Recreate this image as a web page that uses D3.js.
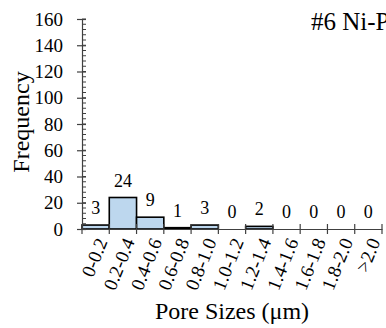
<!DOCTYPE html>
<html>
<head>
<meta charset="utf-8">
<script src="https://cdn.jsdelivr.net/npm/d3@7"></script>
<style>
  body { margin: 0; background: #fff; }
</style>
</head>
<body>
<div id="chart"></div>
<script>
// pore size bins and counts
var categories = ["0-0.2","0.2-0.4","0.4-0.6","0.6-0.8","0.8-1.0","1.0-1.2","1.2-1.4","1.4-1.6","1.6-1.8","1.8-2.0",">2.0"];
var counts = [3,24,9,1,3,0,2,0,0,0,0];
var yTicks = [0,20,40,60,80,100,120,140,160];
var title = "#6 Ni-P";

var serif = "'Liberation Serif', 'Times New Roman', serif";
var width = 386, height = 328;
var svg = d3.select("#chart").append("svg")
    .attr("width", width)
    .attr("height", height);

var x = d3.scaleBand().domain(categories).range([82, 382]).padding(0);
var y = d3.scaleLinear().domain([0, 160]).range([229, 19]);

// bars
svg.append("g").selectAll("rect")
  .data(counts)
  .enter().append("rect")
    .attr("x", function(d, i) { return x(categories[i]); })
    .attr("y", function(d) { return y(d); })
    .attr("width", x.bandwidth())
    .attr("height", function(d) { return y(0) - y(d); })
    .attr("fill", "#bdd7ee")
    .attr("stroke", "#000")
    .attr("stroke-width", 1.6)
    .style("display", function(d) { return d > 0 ? null : "none"; });

// minor ticks on y
var minor = d3.range(0, 161, 4);
svg.append("g").selectAll("line")
  .data(minor)
  .enter().append("line")
    .attr("x1", 82).attr("x2", 86)
    .attr("y1", function(d) { return y(d); })
    .attr("y2", function(d) { return y(d); })
    .attr("stroke", "#404040").attr("stroke-width", 1);

// y axis
var yAxis = svg.append("g")
    .attr("transform", "translate(82,0)")
    .call(d3.axisLeft(y).tickValues(yTicks).tickSizeInner(5).tickSizeOuter(0).tickPadding(14));
yAxis.select(".domain").attr("stroke", "#404040").attr("stroke-width", 1.2);
yAxis.selectAll(".tick line").attr("x2", 4).attr("x1", -5).attr("stroke", "#404040").attr("stroke-width", 1.2);
yAxis.selectAll(".tick text")
    .style("font-family", serif)
    .style("font-size", "19px")
    .attr("fill", "#000");

// x axis
var xAxis = svg.append("g")
    .attr("transform", "translate(0," + y(0) + ")")
    .call(d3.axisBottom(x).tickValues([]).tickSizeOuter(0));
xAxis.select(".domain").attr("stroke", "#404040").attr("stroke-width", 1.2);

var bounds = categories.map(function(c) { return x(c); }).concat([x.range()[1]]);
svg.append("g").selectAll("line")
  .data(bounds)
  .enter().append("line")
    .attr("x1", function(d) { return d; })
    .attr("x2", function(d) { return d; })
    .attr("y1", y(0) - 5)
    .attr("y2", y(0) + 5)
    .attr("stroke", "#404040").attr("stroke-width", 1.2);

// rotated category labels
svg.append("g").selectAll("text")
  .data(categories)
  .enter().append("text")
    .attr("transform", function(d) {
      return "translate(" + (x(d) + x.bandwidth() / 2 + 6) + "," + (y(0) + 10) + ") rotate(-68)";
    })
    .attr("text-anchor", "end")
    .attr("dy", "0.35em")
    .style("font-family", serif)
    .style("font-size", "19px")
    .text(function(d) { return d; });

// value labels
svg.append("g").selectAll("text")
  .data(counts)
  .enter().append("text")
    .attr("x", function(d, i) { return x(categories[i]) + x.bandwidth() / 2; })
    .attr("y", function(d) { return y(d) - 11; })
    .attr("text-anchor", "middle")
    .style("font-family", serif)
    .style("font-size", "18px")
    .text(function(d) { return d; });

// axis titles
svg.append("text")
    .attr("x", 232).attr("y", 319)
    .attr("text-anchor", "middle")
    .style("font-family", serif)
    .style("font-size", "24px")
    .text("Pore Sizes (\u03bcm)");

svg.append("text")
    .attr("transform", "translate(29,122) rotate(-90)")
    .attr("text-anchor", "middle")
    .style("font-family", serif)
    .style("font-size", "24px")
    .text("Frequency");

svg.append("text")
    .attr("x", 311).attr("y", 30)
    .style("font-family", serif)
    .style("font-size", "25px")
    .text(title);
</script>
</body>
</html>
